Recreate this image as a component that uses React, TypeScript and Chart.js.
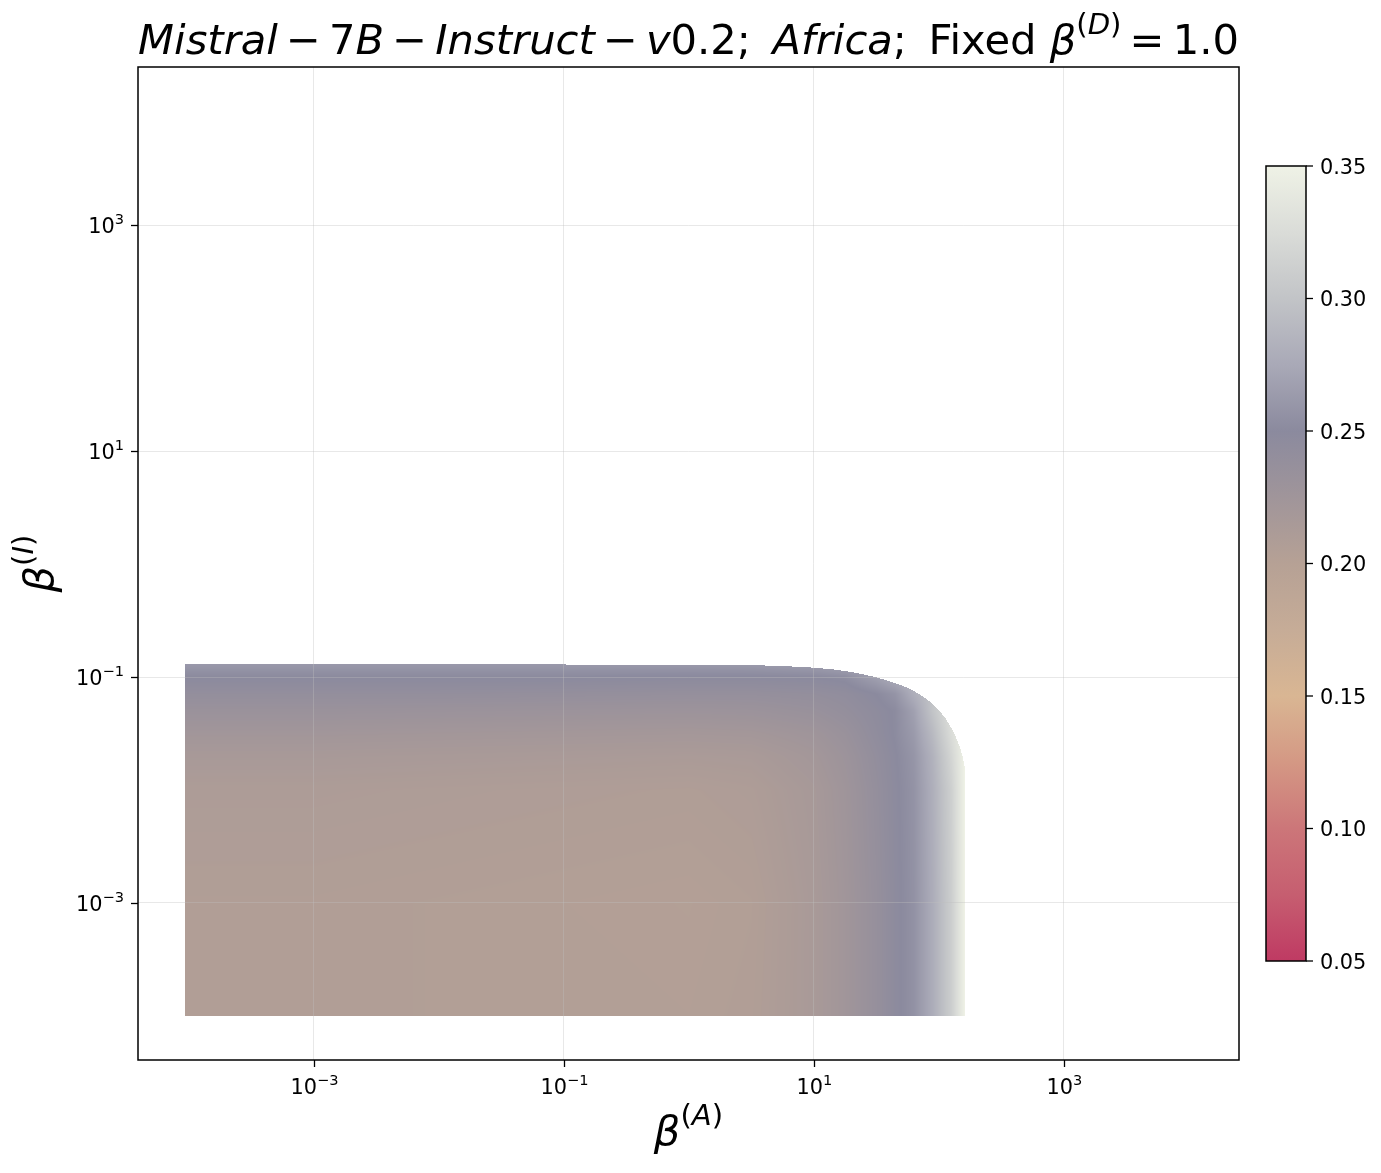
import React, { useEffect, useRef } from 'react';
import { Chart, registerables } from 'chart.js';

Chart.register(...registerables);

const W = 1381;
const H = 1173;

// ---------------- data ----------------
// grid nodes (beta^(A) columns, beta^(I) rows)
const BETA_A = [9.33e-5, 1e-3, 1e-2, 1e-1, 1, 3.16, 10, 17.8, 31.6, 44.7, 63.1, 89.1, 126, 162];
const BETA_I = [1e-4, 1e-3, 1e-2, 0.02, 0.0316, 0.05, 0.0708, 0.1, 0.13];

// score values, one row per beta^(I) node, one entry per beta^(A) node
const SCORE_I_1E4 = [0.206, 0.206, 0.205, 0.205, 0.204, 0.206, 0.215, 0.224, 0.237, 0.247, 0.256, 0.278, 0.31, 0.35];
const SCORE_I_1E3 = [0.206, 0.206, 0.205, 0.204, 0.203, 0.205, 0.215, 0.224, 0.237, 0.247, 0.256, 0.278, 0.31, 0.35];
const SCORE_I_1E2 = [0.21, 0.21, 0.209, 0.208, 0.207, 0.209, 0.217, 0.226, 0.239, 0.248, 0.257, 0.28, 0.312, 0.35];
const SCORE_I_002 = [0.216, 0.216, 0.215, 0.214, 0.213, 0.214, 0.221, 0.229, 0.241, 0.249, 0.259, 0.283, 0.318, 0.35];
const SCORE_I_0032 = [0.223, 0.223, 0.222, 0.221, 0.22, 0.221, 0.226, 0.233, 0.244, 0.251, 0.263, 0.29, 0.325, 0.35];
const SCORE_I_005 = [0.232, 0.232, 0.231, 0.23, 0.229, 0.23, 0.234, 0.239, 0.246, 0.251, 0.268, 0.3, 0.33, 0.35];
const SCORE_I_007 = [0.24, 0.24, 0.24, 0.239, 0.238, 0.238, 0.24, 0.243, 0.25, 0.258, 0.28, 0.3, 0.33, 0.35];
const SCORE_I_010 = [0.25, 0.25, 0.25, 0.25, 0.249, 0.249, 0.25, 0.253, 0.268, 0.28, 0.29, 0.305, 0.33, 0.35];
const SCORE_I_013 = [0.262, 0.262, 0.262, 0.262, 0.262, 0.263, 0.266, 0.272, 0.28, 0.29, 0.3, 0.31, 0.33, 0.35];
const SCORE_ROWS = [SCORE_I_1E4, SCORE_I_1E3, SCORE_I_1E2, SCORE_I_002, SCORE_I_0032, SCORE_I_005, SCORE_I_007, SCORE_I_010, SCORE_I_013];

// upper boundary of the evaluated region (beta^(A), max beta^(I))
const EDGE_A = [9.33e-5, 0.242, 3.08, 8.63, 11.17, 14.19, 17.7, 22.08, 27.04, 32.51, 39.08, 46.99, 55.46, 64.27, 73.11, 83.18, 92.9, 103.75, 113.8, 122.5, 131.8, 139.3, 147.2, 152.8, 157.0, 159.9, 162];
const EDGE_I = [0.13, 0.129, 0.128, 0.1226, 0.1197, 0.117, 0.113, 0.1085, 0.1035, 0.0984, 0.0929, 0.0867, 0.0806, 0.0744, 0.0682, 0.0616, 0.055, 0.0485, 0.0425, 0.0372, 0.0323, 0.028, 0.024, 0.0208, 0.0184, 0.0163, 0.016];

const X_MIN = Math.pow(10, -4.405);
const X_MAX = Math.pow(10, 4.4);
const Y_MIN = Math.pow(10, -4.39);
const Y_MAX = Math.pow(10, 4.4);

const X_TICKS = [1e-3, 1e-1, 1e1, 1e3];
const X_TICK_EXP = ['−3', '−1', '1', '3'];
const Y_TICKS = [1e-3, 1e-1, 1e1, 1e3];
const Y_TICK_EXP = ['−3', '−1', '1', '3'];

const CBAR_MIN = 0.05;
const CBAR_MAX = 0.35;
const CBAR_TICKS = [0.05, 0.1, 0.15, 0.2, 0.25, 0.3, 0.35];
const CBAR_LABELS = ['0.05', '0.10', '0.15', '0.20', '0.25', '0.30', '0.35'];

const CMAP_LEVELS = [0.05, 0.075, 0.1, 0.125, 0.15, 0.175, 0.2, 0.225, 0.25, 0.275, 0.3, 0.325, 0.35];
const CMAP_COLORS = ['#bf3a63', '#c65e70', '#cc7679', '#d49884', '#d9b693', '#c6ac97', '#b6a195', '#a0959a', '#8b8a9e', '#a9a9b7', '#c2c4c7', '#dadcd8', '#eff2e6'];

type Seg = { t?: string; it?: boolean; sup?: boolean; gap?: number };
const op = (c: string, g: number): Seg[] => [{ gap: g }, { t: c }, { gap: g }];
const TITLE: Seg[] = [
  { t: 'Mistral', it: true }, ...op('−', 0.195), { t: '7' }, { t: 'B', it: true }, ...op('−', 0.195),
  { t: 'Instruct', it: true }, ...op('−', 0.195), { t: 'v', it: true }, { t: '0.2;' }, { gap: 0.52 },
  { t: 'Africa', it: true }, { t: ';' }, { gap: 0.52 }, { t: 'Fixed ' }, { t: 'β', it: true },
  { t: '(', sup: true }, { t: 'D', sup: true, it: true }, { t: ')', sup: true }, ...op('=', 0.195), { t: '1.0' },
];
const X_LABEL: Seg[] = [{ t: 'β', it: true }, { t: '(', sup: true }, { t: 'A', sup: true, it: true }, { t: ')', sup: true }];
const Y_LABEL: Seg[] = [{ t: 'β', it: true }, { t: '(', sup: true }, { t: 'I', sup: true, it: true }, { t: ')', sup: true }];

// ---------------- helpers ----------------
const FAMILY = '"DejaVu Sans"';
const fontOf = (size: number, it?: boolean) => `${it ? 'italic ' : ''}${size}px ${FAMILY}`;

function measureSegs(ctx: CanvasRenderingContext2D, segs: Seg[], em: number) {
  let w = 0;
  for (const s of segs) {
    if (s.gap) { w += s.gap * em; continue; }
    ctx.font = fontOf(s.sup ? em * 0.7 : em, s.it);
    w += ctx.measureText(s.t || '').width;
  }
  return w;
}

function drawSegs(ctx: CanvasRenderingContext2D, segs: Seg[], x: number, y: number, em: number, align: 'left' | 'center' | 'right', raise = 0.47) {
  const w = measureSegs(ctx, segs, em);
  let cx = align === 'center' ? x - w / 2 : align === 'right' ? x - w : x;
  ctx.textAlign = 'left';
  ctx.textBaseline = 'alphabetic';
  for (const s of segs) {
    if (s.gap) { cx += s.gap * em; continue; }
    const size = s.sup ? em * 0.7 : em;
    ctx.font = fontOf(size, s.it);
    ctx.fillText(s.t || '', cx, s.sup ? y - em * raise : y);
    cx += ctx.measureText(s.t || '').width;
  }
}

const hexToRgb = (h: string) => [parseInt(h.slice(1, 3), 16), parseInt(h.slice(3, 5), 16), parseInt(h.slice(5, 7), 16)];
const CMAP_RGB = CMAP_COLORS.map(hexToRgb);

function locate(nodes: number[], x: number): [number, number] {
  const n = nodes.length;
  if (x <= nodes[0]) return [0, 0];
  if (x >= nodes[n - 1]) return [n - 2, 1];
  let i = 0;
  while (x > nodes[i + 1]) i++;
  return [i, (x - nodes[i]) / (nodes[i + 1] - nodes[i])];
}

function colorFor(v: number) {
  const [i, t] = locate(CMAP_LEVELS, v);
  const a = CMAP_RGB[i];
  const b = CMAP_RGB[i + 1];
  return [a[0] + (b[0] - a[0]) * t, a[1] + (b[1] - a[1]) * t, a[2] + (b[2] - a[2]) * t];
}

// ---------------- plugins ----------------
const heatmapPlugin = {
  id: 'heatmap',
  beforeDraw(chart: any) {
    const xs = chart.scales.x;
    const ys = chart.scales.y;
    const ctx: CanvasRenderingContext2D = chart.ctx;
    const lxN = BETA_A.map(Math.log10);
    const lyN = BETA_I.map(Math.log10);
    const exN = EDGE_A.map(Math.log10);
    const eyN = EDGE_I.map(Math.log10);
    const px0 = Math.floor(xs.getPixelForValue(BETA_A[0]));
    const px1 = Math.ceil(xs.getPixelForValue(BETA_A[BETA_A.length - 1]));
    const topVal = Math.max(BETA_I[BETA_I.length - 1], ...EDGE_I);
    const py0 = Math.floor(ys.getPixelForValue(topVal));
    const py1 = Math.ceil(ys.getPixelForValue(BETA_I[0]));
    const w = px1 - px0;
    const h = py1 - py0;
    if (w <= 0 || h <= 0) return;
    const img = ctx.createImageData(w, h);
    const d = img.data;
    const colL: number[] = [];
    const colTop: number[] = [];
    for (let i = 0; i < w; i++) {
      const lx = Math.log10(xs.getValueForPixel(px0 + i + 0.5));
      colL.push(lx);
      const [k, t] = locate(exN, lx);
      colTop.push(eyN[k] + (eyN[k + 1] - eyN[k]) * t);
    }
    const lxMin = lxN[0];
    const lxMax = lxN[lxN.length - 1];
    for (let j = 0; j < h; j++) {
      const ly = Math.log10(ys.getValueForPixel(py0 + j + 0.5));
      if (ly < lyN[0]) continue;
      const [r, s] = locate(lyN, ly);
      const row0 = SCORE_ROWS[r];
      const row1 = SCORE_ROWS[r + 1];
      for (let i = 0; i < w; i++) {
        const lx = colL[i];
        if (lx < lxMin || lx > lxMax || ly > colTop[i]) continue;
        const [c, u] = locate(lxN, lx);
        const v0 = row0[c] * (1 - u) + row0[c + 1] * u;
        const v1 = row1[c] * (1 - u) + row1[c + 1] * u;
        const col = colorFor(v0 * (1 - s) + v1 * s);
        const idx = (j * w + i) * 4;
        d[idx] = col[0];
        d[idx + 1] = col[1];
        d[idx + 2] = col[2];
        d[idx + 3] = 255;
      }
    }
    const off = document.createElement('canvas');
    off.width = w;
    off.height = h;
    (off.getContext('2d') as CanvasRenderingContext2D).putImageData(img, 0, 0);
    ctx.drawImage(off, px0, py0);
  },
};

const CB_LEFT = 1266;
const CB_RIGHT = 1306;
const CB_TOP = 166;
const CB_BOTTOM = 961;
const TITLE_EM = 41.67;
const LABEL_EM = 41.67;
const TICK_EM = 20.83;
const TICK_LEN = 7;

const decorPlugin = {
  id: 'decor',
  afterDraw(chart: any) {
    const ctx: CanvasRenderingContext2D = chart.ctx;
    const { left, right, top, bottom } = chart.chartArea;
    const xs = chart.scales.x;
    const ys = chart.scales.y;
    ctx.save();
    ctx.fillStyle = '#000';
    ctx.strokeStyle = '#000';

    // axes frame
    ctx.lineWidth = 1.5;
    ctx.strokeRect(left, top, right - left, bottom - top);

    // ticks + tick labels
    ctx.lineWidth = 1.3;
    X_TICKS.forEach((v, i) => {
      const x = Math.round(xs.getPixelForValue(v)) + 0.5;
      ctx.beginPath();
      ctx.moveTo(x, bottom);
      ctx.lineTo(x, bottom + TICK_LEN);
      ctx.stroke();
      drawSegs(ctx, [{ t: '10' }, { t: X_TICK_EXP[i], sup: true }], x, bottom + 34, TICK_EM, 'center', 0.45);
    });
    Y_TICKS.forEach((v, i) => {
      const y = Math.round(ys.getPixelForValue(v)) + 0.5;
      ctx.beginPath();
      ctx.moveTo(left, y);
      ctx.lineTo(left - TICK_LEN, y);
      ctx.stroke();
      drawSegs(ctx, [{ t: '10' }, { t: Y_TICK_EXP[i], sup: true }], left - 14, y + 7.5, TICK_EM, 'right', 0.45);
    });

    // axis titles
    drawSegs(ctx, X_LABEL, (left + right) / 2, 1145, LABEL_EM, 'center');
    ctx.save();
    ctx.translate(53, (top + bottom) / 2);
    ctx.rotate(-Math.PI / 2);
    drawSegs(ctx, Y_LABEL, 0, 0, LABEL_EM, 'center');
    ctx.restore();

    // title
    drawSegs(ctx, TITLE, (left + right) / 2, 54, TITLE_EM, 'center');

    // colorbar
    const grad = ctx.createLinearGradient(0, CB_BOTTOM, 0, CB_TOP);
    CMAP_LEVELS.forEach((v, i) => grad.addColorStop((v - CBAR_MIN) / (CBAR_MAX - CBAR_MIN), CMAP_COLORS[i]));
    ctx.fillStyle = grad;
    ctx.fillRect(CB_LEFT, CB_TOP, CB_RIGHT - CB_LEFT, CB_BOTTOM - CB_TOP);
    ctx.lineWidth = 1.5;
    ctx.strokeRect(CB_LEFT, CB_TOP, CB_RIGHT - CB_LEFT, CB_BOTTOM - CB_TOP);
    ctx.fillStyle = '#000';
    ctx.font = fontOf(TICK_EM);
    ctx.textAlign = 'left';
    ctx.textBaseline = 'alphabetic';
    ctx.lineWidth = 1.3;
    CBAR_TICKS.forEach((v, i) => {
      const y = CB_BOTTOM - ((v - CBAR_MIN) / (CBAR_MAX - CBAR_MIN)) * (CB_BOTTOM - CB_TOP);
      ctx.beginPath();
      ctx.moveTo(CB_RIGHT, y);
      ctx.lineTo(CB_RIGHT + TICK_LEN, y);
      ctx.stroke();
      ctx.fillText(CBAR_LABELS[i], CB_RIGHT + 14, y + 7.6);
    });
    ctx.restore();
  },
};

const GRID = 'rgba(190,190,190,0.355)';

export default function App() {
  const ref = useRef<HTMLCanvasElement>(null);
  useEffect(() => {
    const canvas = ref.current;
    if (!canvas) return;
    const chart = new Chart(canvas, {
      type: 'scatter',
      data: { datasets: [{ data: [], pointRadius: 0 }] },
      options: {
        responsive: false,
        animation: false,
        devicePixelRatio: 1,
        layout: { padding: { top: 67, right: 142, left: 0, bottom: 0 } },
        plugins: { legend: { display: false }, tooltip: { enabled: false }, title: { display: false } },
        scales: {
          x: {
            type: 'logarithmic',
            min: X_MIN,
            max: X_MAX,
            bounds: 'data',
            afterFit: (s: any) => { s.height = 113; },
            afterBuildTicks: (s: any) => { s.ticks = X_TICKS.map((v) => ({ value: v })); },
            ticks: { display: false },
            grid: { color: GRID, drawTicks: false, lineWidth: 1 },
            border: { display: false },
          },
          y: {
            type: 'logarithmic',
            min: Y_MIN,
            max: Y_MAX,
            bounds: 'data',
            afterFit: (s: any) => { s.width = 138; },
            afterBuildTicks: (s: any) => { s.ticks = Y_TICKS.map((v) => ({ value: v })); },
            ticks: { display: false },
            grid: { color: GRID, drawTicks: false, lineWidth: 1 },
            border: { display: false },
          },
        },
      } as any,
      plugins: [heatmapPlugin, decorPlugin],
    });
    return () => chart.destroy();
  }, []);
  return (
    <div style={{ position: 'absolute', left: 0, top: 0, width: W, height: H, background: '#fff' }}>
      <canvas ref={ref} width={W} height={H} style={{ display: 'block', width: W, height: H }} />
    </div>
  );
}
